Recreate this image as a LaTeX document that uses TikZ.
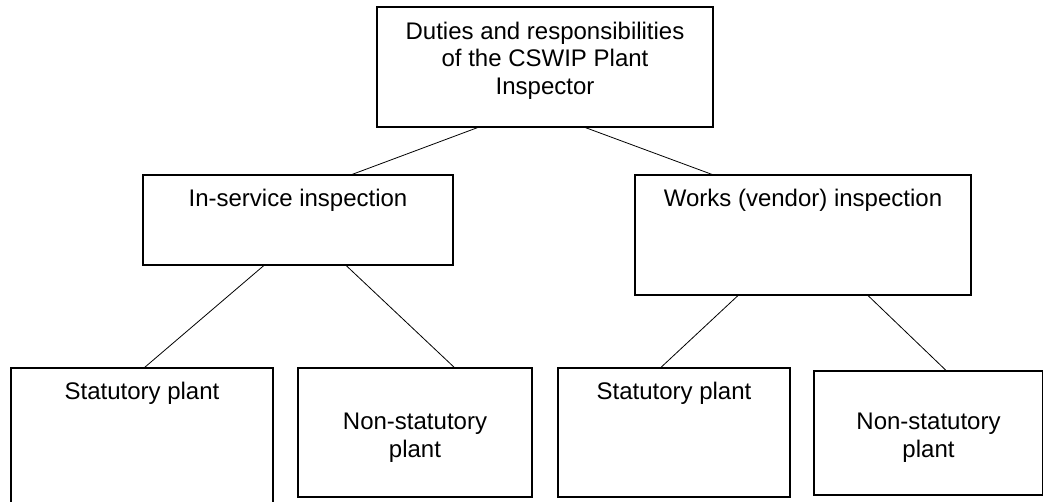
\documentclass[tikz,border=0pt]{standalone}
\usepackage{fontspec}
\setmainfont{Liberation Sans}
\usetikzlibrary{calc,fit}

\tikzset{
  duty/.style={draw=black, line width=0.9pt, inner sep=0pt},
  dutytext/.style={inner sep=0pt, align=center, font=\fontsize{18}{20.7}\selectfont},
  link/.style={line width=0.6pt},
}

\begin{document}
\begin{tikzpicture}[x=0.75pt, y=-0.75pt]
		%%%%% START %%%%%
		\useasboundingbox (0,0) rectangle (1043,501);
		\clip (0,0) rectangle (1043,501);
		
		% box corners
		\coordinate (top-nw) at (377,7);     \coordinate (top-se) at (713,127);
		\coordinate (insvc-nw) at (143,175); \coordinate (insvc-se) at (453,265);
		\coordinate (works-nw) at (635,175); \coordinate (works-se) at (971,295);
		\coordinate (stat1-nw) at (11,368);  \coordinate (stat1-se) at (273,512);
		\coordinate (nstat1-nw) at (298,368); \coordinate (nstat1-se) at (532,497);
		\coordinate (stat2-nw) at (558,368); \coordinate (stat2-se) at (790,497);
		\coordinate (nstat2-nw) at (814,371); \coordinate (nstat2-se) at (1043,495);
		
		\node[duty, fit=(top-nw)(top-se)] (top) {};
		\node[duty, fit=(insvc-nw)(insvc-se)] (insvc) {};
		\node[duty, fit=(works-nw)(works-se)] (works) {};
		\node[duty, fit=(stat1-nw)(stat1-se)] (stat1) {};
		\node[duty, fit=(nstat1-nw)(nstat1-se)] (nstat1) {};
		\node[duty, fit=(stat2-nw)(stat2-se)] (stat2) {};
		\node[duty, fit=(nstat2-nw)(nstat2-se)] (nstat2) {};
		
		% texts (base = last line)
		\node[dutytext, anchor=base] (top-txt) at ($(top.north)+(0,88)$) {Duties and responsibilities\\of the CSWIP Plant\\Inspector};
		\node[dutytext, anchor=base] (insvc-txt) at ($(insvc.north)+(0,32)$) {In-service inspection};
		\node[dutytext, anchor=base] (works-txt) at ($(works.north)+(0,32)$) {Works (vendor) inspection};
		\node[dutytext, anchor=base] (stat1-txt) at ($(stat1.north)+(0,32)$) {Statutory plant};
		\node[dutytext, anchor=base] (stat2-txt) at ($(stat2.north)+(0,32)$) {Statutory plant};
		\node[dutytext] (nstat1-txt) at ($(nstat1.center)+(0,5)$) {Non-statutory\\plant};
		\node[dutytext] (nstat2-txt) at ($(nstat2.center)+(0,5)$) {Non-statutory\\plant};
		
		% connectors
		\draw[link] ($(top.south west)!.30!(top.south east)$) -- ($(insvc.north west)!.674!(insvc.north east)$);
		\draw[link] ($(top.south west)!.62!(top.south east)$) -- ($(works.north west)!.23!(works.north east)$);
		
		\draw[link] ($(insvc.south west)!.39!(insvc.south east)$) -- ($(stat1.north west)!.51!(stat1.north east)$);
		\draw[link] ($(insvc.south west)!.655!(insvc.south east)$) -- ($(nstat1.north west)!.667!(nstat1.north east)$);
		
		\draw[link] ($(works.south west)!.307!(works.south east)$) -- ($(stat2.north west)!.444!(stat2.north east)$);
		\draw[link] ($(works.south west)!.693!(works.south east)$) -- ($(nstat2.north west)!.576!(nstat2.north east)$);
		
		%%%%% END %%%%%
\end{tikzpicture}
\end{document}
